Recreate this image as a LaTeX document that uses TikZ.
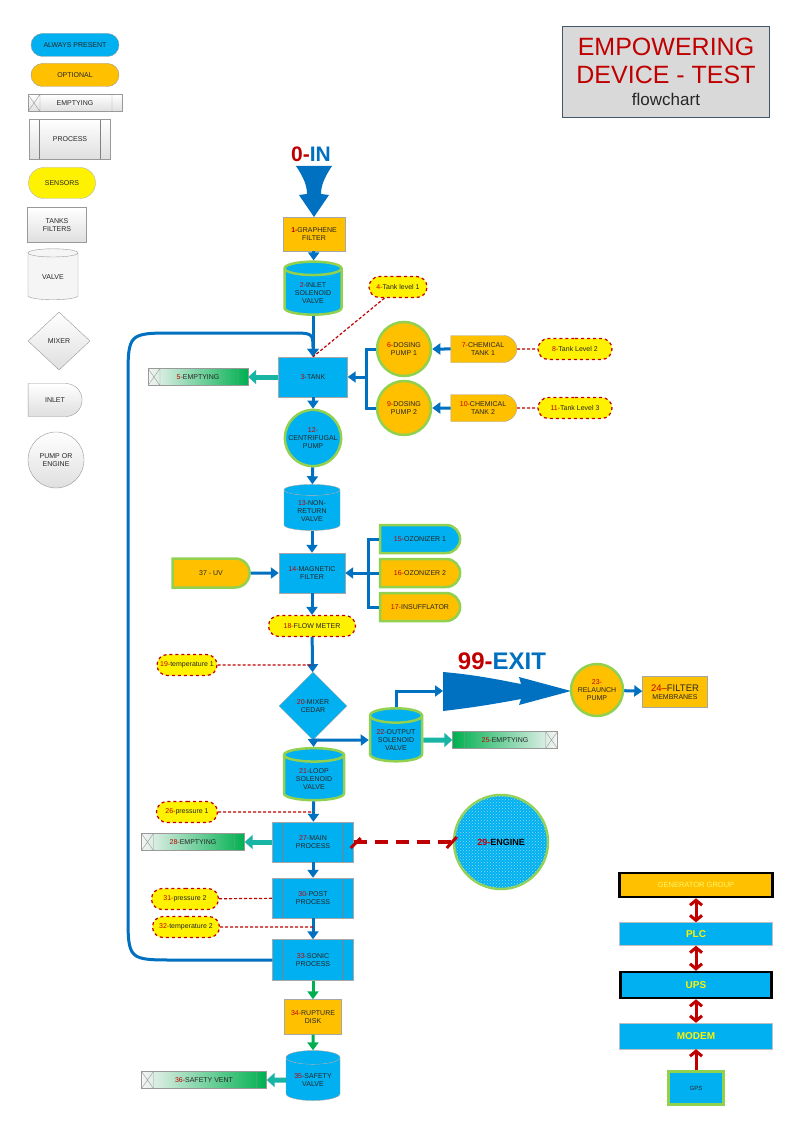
\documentclass[tikz,border=0pt]{standalone}
\usepackage{fontspec}
\setmainfont{Liberation Sans}
\usetikzlibrary{shapes.geometric,shapes.misc,patterns,arrows.meta,calc}
\definecolor{cblue}{HTML}{00B0F0}
\definecolor{ablue}{HTML}{0070C0}
\definecolor{corange}{HTML}{FFC000}
\definecolor{lgreen}{HTML}{92D050}
\definecolor{numred}{HTML}{C00000}
\definecolor{egreen}{HTML}{00B050}
\definecolor{dteal}{HTML}{18B4A4}
\definecolor{dtxt}{HTML}{262626}
\definecolor{tgray}{HTML}{D9D9D9}
\definecolor{tframe}{HTML}{44546A}
\newcommand{\nr}[1]{\textcolor{numred}{#1-}}

\begin{document}
\begin{tikzpicture}[x=1pt,y=-1pt,
  every node/.style={font=\fontsize{7}{8}\selectfont,text=dtxt,align=center,inner sep=1pt},
  leg/.style={draw=gray!80,top color=white,bottom color=gray!25},
  bx/.style={rectangle,draw=gray!70,minimum width=#1,minimum height=38},
  bx/.default=66,
  pil/.style={rounded rectangle,minimum width=#1,minimum height=21},
  pil/.default=90,
  inl/.style={rounded rectangle,rounded rectangle left arc=none,minimum width=#1,minimum height=27},
  inl/.default=82,
  cyl/.style={cylinder,shape border rotate=90,aspect=0.35,minimum width=56,minimum height=50,
    cylinder uses custom fill,cylinder body fill=#1,cylinder end fill=#1},
  cyl/.default=cblue,
  pmp/.style={circle,minimum size=54},
  dia/.style={diamond,aspect=1,minimum size=64},
  proc/.style={bx=81,minimum height=40,path picture={
    \draw[gray] ([xshift=10pt]path picture bounding box.north west) -- ([xshift=10pt]path picture bounding box.south west)
      ([xshift=-10pt]path picture bounding box.north east) -- ([xshift=-10pt]path picture bounding box.south east);}},
  sens/.style={pil=#1,fill=yellow,draw=numred,dashed,line width=1.2pt},
  sens/.default=62,
  grn/.style={draw=lgreen,line width=2.5pt},
  emp/.style={rectangle,draw=gray!80,minimum width=#1,minimum height=17},
  crossl/.style={path picture={
    \draw[gray!80] ([xshift=12pt]path picture bounding box.north west) -- ([xshift=12pt]path picture bounding box.south west)
      (path picture bounding box.north west) -- ([xshift=12pt]path picture bounding box.south west)
      ([xshift=12pt]path picture bounding box.north west) -- (path picture bounding box.south west)
      ([xshift=-10pt]path picture bounding box.north east) -- ([xshift=-10pt]path picture bounding box.south east);}},
  crossr/.style={path picture={
    \draw[gray!80] ([xshift=-12pt]path picture bounding box.north east) -- ([xshift=-12pt]path picture bounding box.south east)
      (path picture bounding box.north east) -- ([xshift=-12pt]path picture bounding box.south east)
      ([xshift=-12pt]path picture bounding box.north east) -- (path picture bounding box.south east)
      ([xshift=12pt]path picture bounding box.north west) -- ([xshift=12pt]path picture bounding box.south west);}},
  flow/.style={draw=ablue,line width=3pt,-{Triangle[length=8pt,width=11pt]}},
  pipe/.style={draw=ablue,line width=3pt},
  sline/.style={draw=numred,line width=1.2pt,dash pattern=on 3pt off 2pt},
  drain/.style={draw=dteal,line width=5pt,-{Triangle[length=8pt,width=14pt]}},
  safe/.style={draw=egreen,line width=3pt,-{Triangle[length=8pt,width=11pt]}},
  rarr/.style={draw=numred,line width=3pt,{Straight Barb[length=5pt,width=12pt]}-{Straight Barb[length=5pt,width=12pt]}}
]
\fill[white] (0,0) rectangle (800,1131);
\useasboundingbox (0,0) rectangle (800,1131);

\node[pil=90,minimum height=23,fill=cblue,draw=gray!80] (l1) at (75,45) {ALWAYS PRESENT};
\node[pil=90,minimum height=23,fill=corange,draw=gray!80] (l2) at (75,75) {OPTIONAL};
\node[emp=94,crossl,leg] (l3) at (75,103) {EMPTYING};
\node[proc,leg] (l4) at (70,139) {PROCESS};
\node[pil=69,minimum height=31,fill=yellow,draw=gray!60] (l5) at (62,183) {SENSORS};
\node[bx=59,minimum height=35,leg] (l6) at (57,225) {TANKS\\FILTERS};
\node[cyl=gray!8,minimum width=50,minimum height=51,draw=gray!80] (l7) at (53,277) {VALVE};
\node[dia,minimum width=62,minimum height=58,leg] (l8) at (59,341) {MIXER};
\node[inl=56,minimum height=33,leg] (l9) at (55,400) {INLET};
\node[pmp,minimum size=56,leg] (l10) at (56,460) {PUMP OR\\ENGINE};

\node[fill=tgray,draw=tframe,line width=1pt,minimum width=207,minimum height=91,
  font=\fontsize{25}{28}\selectfont,text=numred] (t) at (666,72)
  {EMPOWERING\\DEVICE - TEST\\[-6pt]{\fontsize{17}{20}\selectfont\color{dtxt}flowchart}};

\node[font=\fontsize{21}{21}\selectfont\bfseries] (in) at (311,154) {\textcolor{numred}{0-}\textcolor{ablue}{IN}};
\fill[ablue] (296,166) .. controls (304,178) and (307,186) .. (307,194) -- (299,195) -- (314,217)
  -- (329,195) -- (321,194) .. controls (321,186) and (324,178) .. (332,166) -- cycle;
\node[font=\fontsize{24}{24}\selectfont\bfseries] (out) at (502,661) {\textcolor{numred}{99-}\textcolor{ablue}{EXIT}};
\fill[ablue] (443,672) .. controls (478,675) and (505,681) .. (521,684) -- (519,677) -- (571,691)
  -- (519,705) -- (521,699) .. controls (505,702) and (478,707) .. (443,711) -- cycle;

\node[bx=62,minimum height=34,fill=corange] (1) at (314,234) {\textbf{\nr{1}}GRAPHENE\\FILTER};
\node[cyl,grn,minimum width=57,minimum height=53] (2) at (313,293) {\nr{2}INLET\\SOLENOID\\VALVE};
\node[bx=69,minimum height=40,fill=cblue] (3) at (313,377) {\nr{3}TANK};
\node[sens=60] (4) at (398,287) {\nr{4}Tank level 1};
\node[emp=100,crossl,left color=gray!8,middle color=gray!8,right color=egreen] (5) at (198,377) {\nr{5}EMPTYING};
\node[pmp,grn,fill=corange] (6) at (404,349) {\nr{6}DOSING\\PUMP 1};
\node[inl=68,fill=corange,draw=gray!70] (7) at (483,349) {\nr{7}CHEMICAL\\TANK 1};
\node[sens=76] (8) at (575,349) {\nr{8}Tank Level 2};
\node[pmp,grn,fill=corange] (9) at (404,408) {\nr{9}DOSING\\PUMP 2};
\node[inl=68,fill=corange,draw=gray!70] (10) at (483,408) {\nr{10}CHEMICAL\\TANK 2};
\node[sens=76] (11) at (575,408) {\nr{11}Tank Level 3};
\node[pmp,grn,fill=cblue] (12) at (313,438) {\nr{12}\\CENTRIFUGAL\\PUMP};
\node[cyl,draw=gray!70,minimum width=56,minimum height=46] (13) at (312,511) {\nr{13}NON-\\RETURN\\VALVE};
\node[bx=66,minimum height=40,fill=cblue] (14) at (312,573) {\nr{14}MAGNETIC\\FILTER};
\node[inl=82,minimum height=28,grn,fill=cblue] (15) at (420,539) {\nr{15}OZONIZER 1};
\node[inl=82,minimum height=28,grn,fill=corange] (16) at (420,573) {\nr{16}OZONIZER 2};
\node[inl=82,minimum height=28,grn,fill=corange] (17) at (420,607) {\nr{17}INSUFFLATOR};
\node[inl=79,minimum height=29,grn,fill=corange] (37) at (211,573) {37 - UV};
\node[sens=89] (18) at (312,626) {\nr{18}FLOW METER};
\node[sens=62] (19) at (187,665) {\nr{19}temperature 1};
\node[dia,fill=cblue,draw=gray!70,minimum size=68] (20) at (313,706) {\nr{20}MIXER\\CEDAR};
\node[cyl,grn,minimum width=60,minimum height=52] (21) at (314,779) {\nr{21}LOOP\\SOLENOID\\VALVE};
\node[cyl,grn,minimum width=52,minimum height=53] (22) at (396,740) {\nr{22}OUTPUT\\SOLENOID\\VALVE};
\node[pmp,grn,fill=corange,minimum size=52] (23) at (597,690) {\nr{23}\\RELAUNCH\\PUMP};
\node[bx=65,minimum height=31,fill=corange] (24) at (675,692)
  {{\fontsize{9.5}{11}\selectfont\textcolor{numred}{24--}FILTER}\\MEMBRANES};
\node[emp=105,crossr,left color=egreen,middle color=gray!8,right color=gray!8] (25) at (505,740) {\nr{25}EMPTYING};
\node[sens=63] (26) at (187,812) {\nr{26}pressure 1};
\node[proc,fill=cblue] (27) at (313,842) {\nr{27}MAIN\\PROCESS};
\node[emp=103,crossl,left color=gray!8,middle color=gray!8,right color=egreen] (28) at (193,842) {\nr{28}EMPTYING};
\node[pmp,grn,minimum size=94,fill=cblue,postaction={pattern=crosshatch dots,pattern color=white!55!cblue}] (29) at (501,842)
  {\fontsize{9}{9}\selectfont\bfseries\nr{29}\textcolor{black}{ENGINE}};
\node[proc,fill=cblue] (30) at (313,898) {\nr{30}POST\\PROCESS};
\node[sens=69] (31) at (185,899) {\nr{31}pressure 2};
\node[sens=69] (32) at (186,927) {\nr{32}temperature 2};
\node[proc,fill=cblue,minimum height=41] (33) at (313,960) {\nr{33}SONIC\\PROCESS};
\node[bx=57,minimum height=35,fill=corange] (34) at (313,1017) {\nr{34}RUPTURE\\DISK};
\node[cyl,draw=gray!70,minimum width=54,minimum height=50] (35) at (313,1080) {\nr{35}SAFETY\\VALVE};
\node[emp=125,crossl,left color=gray!8,middle color=gray!8,right color=egreen] (36) at (204,1080) {\nr{36}SAFETY VENT};

\node[bx=153,minimum height=24,fill=corange,draw=black,line width=2.5pt,text=yellow!60,font=\fontsize{7.5}{8}\selectfont] (gen) at (696,885) {GENERATOR GROUP};
\node[bx=153,minimum height=23,fill=cblue,draw=gray!50,text=yellow,font=\fontsize{10}{10}\selectfont\bfseries] (plc) at (696,934) {PLC};
\node[bx=151,minimum height=26,fill=cblue,draw=black,line width=2.5pt,text=yellow,font=\fontsize{10}{10}\selectfont\bfseries] (ups) at (696,985) {UPS};
\node[bx=153,minimum height=26,fill=cblue,draw=gray!50,text=yellow,font=\fontsize{10}{10}\selectfont\bfseries] (modem) at (696,1036) {MODEM};
\node[bx=55,minimum height=33,grn,fill=cblue,font=\fontsize{6}{6}\selectfont] (gps) at (696,1088) {GPS};

\coordinate (b1) at (366,377);
\coordinate (b2) at (368,573);
\coordinate (xa) at (443,691);

\draw[flow] (1) -- (2);
\draw[flow] (2) -- (3);
\draw[flow] (33.west) -- (175,960) .. controls (128,960) .. (128,913) -- (128,380)
  .. controls (128,333) .. (175,333) -- (290,333) .. controls (313,333) .. (3.north);
\draw[sline] (4) -- (3.north);
\draw[drain] (3) -- (5);
\draw[pipe] (6.west) -| (b1) |- (9.west);
\draw[flow] (b1) -- (3);
\draw[flow] (7) -- (6);
\draw[sline] (7) -- (8);
\draw[flow] (10) -- (9);
\draw[sline] (10) -- (11);
\draw[flow] (3) -- (12);
\draw[flow] (12) -- (13);
\draw[flow] (13) -- (14);
\draw[flow] (37) -- (14);
\draw[pipe] (15.west) -| (b2) |- (17.west);
\draw[pipe] (16) -- (b2);
\draw[flow] (b2) -- (14);
\draw[flow] (14) -- (18);
\draw[flow] (18) -- (20);
\draw[sline] (19) -- (19 -| 20.north);
\draw[flow] (20) -- (21);
\draw[flow] (20.south) -- (22);
\draw[flow] (22) |- (xa);
\draw[flow] (23) -- (24);
\draw[drain] (22) -- (25);
\draw[flow] (21) -- (27);
\draw[sline] (26) -- (26 -| 27.north);
\draw[drain] (27) -- (28);
\draw[numred,line width=3.5pt,dash pattern=on 13pt off 8pt] (27) -- (29);
\draw[numred,line width=3pt] ($(27.east)+(-3,6)$) -- ($(27.east)+(7,-4)$);
\draw[numred,line width=3pt] ($(29.west)+(-6,6)$) -- ($(29.west)+(4,-5)$);
\draw[flow] (27) -- (30);
\draw[sline] (31) -- (30);
\draw[flow] (30) -- (33);
\draw[sline] (32) -- (32 -| 33.north);
\draw[safe] (33) -- (34);
\draw[safe] (34) -- (35);
\draw[drain] (35) -- (36);
\draw[rarr] (gen) -- (plc);
\draw[rarr] (plc) -- (ups);
\draw[rarr] (ups) -- (modem);
\draw[numred,line width=3pt,-{Straight Barb[length=5pt,width=12pt]}] (gps) -- (modem);
\end{tikzpicture}
\end{document}
